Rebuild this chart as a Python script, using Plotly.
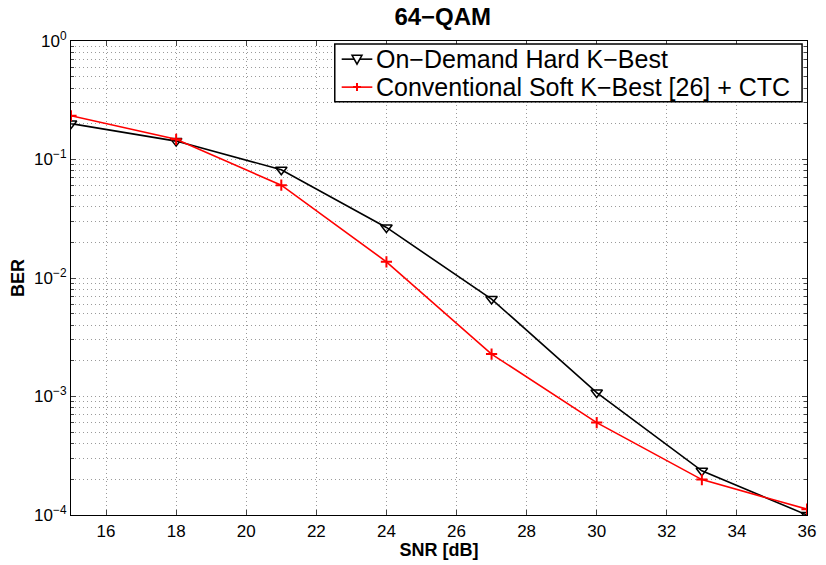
import plotly.graph_objects as go

snr = [15, 18, 21, 24, 27, 30, 33, 36]
ber_hard = [0.201, 0.143, 0.082, 0.0267, 0.00664, 0.00108, 2.36e-4, 1.0e-4]
ber_soft = [0.234, 0.148, 0.0607, 0.0137, 0.00228, 6.02e-4, 1.99e-4, 1.12e-4]
name_hard = "On\u2212Demand Hard K\u2212Best"
name_soft = "Conventional Soft K\u2212Best [26] + CTC"
x_ticks = [16, 18, 20, 22, 24, 26, 28, 30, 32, 34, 36]
y_ticks = [1e-4, 1e-3, 1e-2, 1e-1, 1]
y_ticktext = ["10<sup>\u22124</sup>", "10<sup>\u22123</sup>", "10<sup>\u22122</sup>",
              "10<sup>\u22121</sup>", "10<sup>0</sup>"]

FONT = "Liberation Sans, Arial, Helvetica, sans-serif"
W, H = 826, 565
ML, MR, MT, MB = 71, 10, 41, 41
PW, PH = W - ML - MR, H - MT - MB


def px(x):
    return (x - ML) / PW


def py(y):
    return (H - MB - y) / PH


fig = go.Figure()
fig.add_trace(go.Scatter(
    x=snr, y=ber_hard, name=name_hard, mode="lines+markers",
    line=dict(color="black", width=1.6),
    marker=dict(symbol="triangle-down-open", size=10, color="black",
                line=dict(color="black", width=1.5)),
))
fig.add_trace(go.Scatter(
    x=snr, y=ber_soft, name=name_soft, mode="lines+markers",
    line=dict(color="#ff0000", width=1.6),
    marker=dict(symbol="cross-thin-open", size=8, color="#ff0000",
                line=dict(color="#ff0000", width=2)),
))

# manual legend (compact, MATLAB style)
shapes = [dict(type="rect", xref="paper", yref="paper",
               x0=px(338), x1=px(811), y0=py(103), y1=py(44),
               line=dict(color="black", width=1.5), fillcolor="white", layer="above")]
annotations = []
rows = [(name_hard, "black", "tri", 59.5), (name_soft, "#ff0000", "plus", 88)]
for name, col, mk, yc in rows:
    shapes.append(dict(type="line", xref="paper", yref="paper",
                       x0=px(345), x1=px(376), y0=py(yc), y1=py(yc),
                       line=dict(color=col, width=1.6), layer="above"))
    if mk == "tri":
        path = "M-5,4 L5,4 L0,-5 Z"
    else:
        path = "M-4,0 L4,0 M0,-4 L0,4"
    shapes.append(dict(type="path", xref="paper", yref="paper",
                       xsizemode="pixel", ysizemode="pixel",
                       xanchor=px(360.5), yanchor=py(yc), path=path,
                       fillcolor="white" if mk == "tri" else None,
                       line=dict(color=col, width=1.5 if mk == "tri" else 2),
                       layer="above"))
    annotations.append(dict(text=name, xref="paper", yref="paper",
                            x=px(378), y=py(yc), xanchor="left", yanchor="middle",
                            showarrow=False, font=dict(size=25, color="black")))

GRIDC = "#9a9a9a"
DASH = "1px,3px"

fig.update_layout(
    width=W, height=H,
    margin=dict(l=ML, r=MR, t=MT, b=MB),
    paper_bgcolor="white", plot_bgcolor="white",
    font=dict(family=FONT, color="black", size=17),
    title=dict(text="<b>64\u2212QAM</b>", x=0.536, xanchor="center",
               y=0.97, yanchor="middle", font=dict(size=24)),
    showlegend=False,
    shapes=shapes,
    annotations=annotations,
)
fig.update_xaxes(
    range=[15, 36], tickvals=x_ticks, ticks="inside", ticklen=5,
    showline=True, linecolor="black", linewidth=1.2, mirror="ticks",
    zeroline=False, tickfont=dict(size=17),
    showgrid=True, gridcolor=GRIDC, griddash=DASH, gridwidth=1,
    title=dict(text="<b>SNR [dB]</b>", font=dict(size=18), standoff=2),
)
fig.update_yaxes(
    type="log", range=[-4, 0], tickvals=y_ticks, ticktext=y_ticktext,
    ticks="inside", ticklen=5,
    showline=True, linecolor="black", linewidth=1.2, mirror="ticks",
    zeroline=False, tickfont=dict(size=17),
    showgrid=True, gridcolor=GRIDC, griddash=DASH, gridwidth=1,
    title=dict(text="<b>BER</b>", font=dict(size=18), standoff=4),
    minor=dict(ticks="inside", ticklen=3, showgrid=True, gridcolor=GRIDC,
               griddash=DASH, dtick="D1"),
)

fig.write_html("out.html")
